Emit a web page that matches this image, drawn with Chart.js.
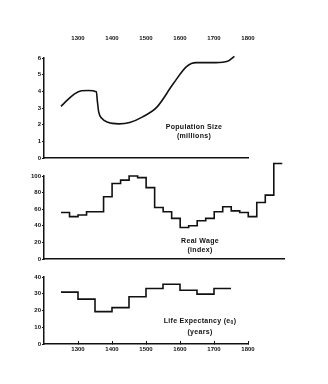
<!DOCTYPE html>
<html>
<head>
<meta charset="utf-8">
<script src="https://cdn.jsdelivr.net/npm/chart.js@4/dist/chart.umd.min.js"></script>
<style>
  body { margin: 0; background: #fff; width: 328px; height: 384px; position: relative; overflow: hidden; font-family: "Liberation Sans", Arial, sans-serif; }
  canvas { position: absolute; left: 0; }
  .note { position: absolute; width: 90px; text-align: center; font-weight: bold; font-size: 7px; line-height: 9px; letter-spacing: .3px; color: #111; }
  .note sub { font-size: 5px; vertical-align: -1px; }
</style>
</head>
<body>
<canvas id="popChart" width="328" height="165" style="top:0"></canvas>
<canvas id="wageChart" width="328" height="110" style="top:160px"></canvas>
<canvas id="lifeChart" width="328" height="100" style="top:268px"></canvas>

<div class="note" style="left:149px;top:122px">Population Size<br>(millions)</div>
<div class="note" style="left:155px;top:236px">Real Wage<br>(index)</div>
<div class="note" style="left:155px;top:316px">Life Expectancy (e<sub>0</sub>)<br>(years)</div>

<script>
// population size, millions (smooth curve)
var popYears  = [1250, 1270, 1290, 1310, 1330, 1354, 1357, 1361, 1370, 1388, 1420, 1452, 1490, 1532, 1580, 1620, 1648, 1705, 1740, 1760];
var popValues = [3.1, 3.5, 3.85, 4.03, 4.05, 3.98, 3.4, 2.75, 2.38, 2.14, 2.05, 2.13, 2.47, 3.05, 4.45, 5.5, 5.72, 5.72, 5.8, 6.1];

// real wage index, 25-year steps (last point closes the final step)
var wageYears  = [1250, 1275, 1300, 1325, 1350, 1375, 1400, 1425, 1450, 1475, 1500, 1525, 1550, 1575, 1600, 1625, 1650, 1675, 1700, 1725, 1750, 1775, 1800, 1825, 1850, 1875, 1900];
var wageValues = [56, 51, 53, 57, 57, 75, 91, 95, 100, 98, 86, 62, 57, 49, 38, 40, 46, 49, 57, 63, 58, 56, 51, 68, 77, 115, 115];

// life expectancy e0, 50-year steps
var lifeYears  = [1250, 1300, 1350, 1400, 1450, 1500, 1550, 1600, 1650, 1700, 1750];
var lifeValues = [31, 26.8, 19.3, 21.7, 28.2, 33.1, 35.7, 32.1, 29.8, 33.1, 33.1];

var centuryTicks = [1300, 1400, 1500, 1600, 1700, 1800];

var ink = '#111';
var tickFont = { family: '"Liberation Sans", Arial, sans-serif', size: 6, weight: 'bold' };

function toPoints(xs, ys) {
  return xs.map(function(x, i) { return { x: x, y: ys[i] }; });
}

function yAxis(max, step) {
  return {
    min: 0, max: max,
    ticks: { stepSize: step, color: ink, font: tickFont, padding: 1 },
    grid: { drawOnChartArea: false, tickLength: 2, color: ink, lineWidth: 1 },
    border: { color: ink, width: 1.5 },
    afterFit: function(s) { s.width = 44; }
  };
}

function plainX(max) {
  return {
    type: 'linear', position: 'bottom', min: 1200, max: max,
    ticks: { display: false },
    grid: { display: false, drawTicks: false },
    border: { color: ink, width: 1.5 },
    afterFit: function(s) { s.height = 0; }
  };
}

function centuryX(position, padding, height) {
  return {
    type: 'linear', position: position, min: 1200, max: 1800,
    afterBuildTicks: function(s) { s.ticks = centuryTicks.map(function(v) { return { value: v }; }); },
    ticks: { color: ink, font: tickFont, padding: padding, callback: function(v) { return String(v); } },
    grid: { display: false, drawTicks: false },
    border: { display: false },
    afterFit: function(s) { s.height = height; }
  };
}

function lineSet(points, extra) {
  var ds = { data: points, borderColor: ink, borderWidth: 1.6, pointRadius: 0, fill: false, clip: false };
  for (var k in extra) ds[k] = extra[k];
  return ds;
}

function baseOptions(scales, padding) {
  return {
    responsive: false, animation: false, devicePixelRatio: 1,
    layout: { padding: padding },
    plugins: { legend: { display: false }, tooltip: { enabled: false } },
    scales: scales
  };
}

// top panel: population
var popX = plainX(1800);
var popTop = centuryX('top', 16, 30);
new Chart(document.getElementById('popChart'), {
  type: 'line',
  data: { datasets: [lineSet(toPoints(popYears, popValues), { cubicInterpolationMode: 'monotone', xAxisID: 'x' })] },
  options: baseOptions({ x: popX, xTop: popTop, y: yAxis(6, 1) }, { left: 0, right: 80, top: 28, bottom: 7 })
});

// middle panel: real wage
new Chart(document.getElementById('wageChart'), {
  type: 'line',
  data: { datasets: [lineSet(toPoints(wageYears, wageValues), { stepped: 'before' })] },
  options: baseOptions({ x: plainX(1905), y: yAxis(100, 20) }, { left: 0, right: 44, top: 16, bottom: 11 })
});

// bottom panel: life expectancy
var lifeX = centuryX('bottom', 5, 15);
lifeX.grid = { display: true, drawOnChartArea: false, drawTicks: true, tickLength: -3, color: ink, lineWidth: 1 };
lifeX.border = { color: ink, width: 1.5 };
new Chart(document.getElementById('lifeChart'), {
  type: 'line',
  data: { datasets: [lineSet(toPoints(lifeYears, lifeValues), { stepped: 'before' })] },
  options: baseOptions({ x: lifeX, y: yAxis(40, 10) }, { left: 0, right: 80, top: 9, bottom: 9 })
});
</script>
</body>
</html>
